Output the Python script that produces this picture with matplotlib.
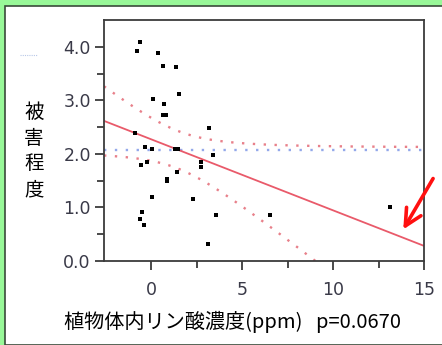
import numpy as np
import matplotlib
matplotlib.use("Agg")
import matplotlib.pyplot as plt
from matplotlib.patches import Rectangle

# data
phos = [-0.60, -0.79, 0.38, 0.64, 1.34, 1.54, 0.11, 0.71, 0.62, 0.81,
        3.19, -0.88, -0.35, 0.05, 1.30, 1.45, 3.37, -0.24, -0.59, 2.75,
        2.75, 1.43, 0.88, 0.88, 0.04, 2.31, 13.13, -0.49, 6.54, 3.55,
        -0.60, -0.42, 3.10]
damage = [4.09, 3.92, 3.89, 3.64, 3.62, 3.11, 3.02, 2.93, 2.72, 2.72,
          2.48, 2.39, 2.12, 2.09, 2.09, 2.09, 1.98, 1.84, 1.79, 1.85,
          1.76, 1.67, 1.54, 1.49, 1.19, 1.15, 1.00, 0.92, 0.86, 0.86,
          0.79, 0.68, 0.32]
xticks = [0, 5, 10, 15]
yticks = [0.0, 1.0, 2.0, 3.0, 4.0]
ylabel = "被\n害\n程\n度"
xlabel = "植物体内リン酸濃度(ppm)   p=0.0670"
t_crit = 2.04  # t(0.975, n-2)

x = np.array(phos)
y = np.array(damage)
n = len(x)
slope, icpt = np.polyfit(x, y, 1)
resid = y - (icpt + slope * x)
s = np.sqrt(np.sum(resid ** 2) / (n - 2))
sxx = np.sum((x - x.mean()) ** 2)

xs = np.linspace(-2.6, 15, 200)
fit = icpt + slope * xs
half = t_crit * s * np.sqrt(1.0 / n + (xs - x.mean()) ** 2 / sxx)

fig = plt.figure(figsize=(4.42, 3.45), dpi=100)
# green frame
fig.patches.append(Rectangle((0, 0), 1, 1, transform=fig.transFigure,
                             facecolor="#98f898", edgecolor="none", zorder=-3))
fig.patches.append(Rectangle((5 / 442, 0), 1, 1 - 6 / 345, transform=fig.transFigure,
                             facecolor="white", edgecolor="#3a4a3a", lw=1.2, zorder=-2))

ax = fig.add_axes([104 / 442, 84 / 345, 320 / 442, 241 / 345])
ax.set_xlim(-2.6, 15)
ax.set_ylim(0, 4.5)

ax.plot(xs, fit + half, color="#e8808a", lw=1.7, ls=(0, (1, 3.6)), clip_on=True)
ax.plot(xs, fit - half, color="#e8808a", lw=1.7, ls=(0, (1, 3.6)), clip_on=True)
ax.plot(xs, np.full_like(xs, y.mean()), color="#93a8ea", lw=1.7, ls=(0, (1, 3.6)))
ax.plot(xs, fit, color="#e95a6a", lw=1.3)
ax.plot(x, y, "s", color="black", ms=2.6, mew=0)

for sp in ax.spines.values():
    sp.set_color("#3c3c3c")
    sp.set_linewidth(1.3)

ax.set_xticks(xticks)
ax.set_xticks([2.5, 7.5, 12.5], minor=True)
ax.set_yticks(yticks)
ax.set_yticklabels(["%.1f" % v for v in yticks])
ax.set_yticks(np.arange(0.5, 4.5, 1.0), minor=True)
ax.tick_params(which="major", direction="out", length=6.5, width=1.3,
               color="#3c3c3c", labelsize=12.5, labelcolor="#3a3a48")
ax.tick_params(axis="x", which="major", pad=8)
ax.tick_params(axis="y", which="major", pad=3)
ax.tick_params(which="minor", direction="out", length=5, width=1.3, color="#3c3c3c")

fig.text(34 / 442, 1 - 151 / 345, ylabel, family=["Noto Sans CJK JP", "DejaVu Sans"],
         fontsize=14, ha="center", va="center", linespacing=1.3)
fig.text(232 / 442, 1 - 322 / 345, xlabel, family=["Noto Sans CJK JP", "DejaVu Sans"],
         fontsize=14.5, ha="center", va="center")

# faint marker near top left
fig.add_artist(plt.Line2D([20 / 442, 37 / 442], [1 - 55 / 345] * 2, color="#b8c8e8",
                          lw=0.8, ls=(0, (1, 1))))

ax.annotate("", xy=(13.86, 0.59), xytext=(15.5, 1.54), annotation_clip=False,
            arrowprops=dict(arrowstyle="->,head_length=1.2,head_width=0.6",
                            color="#ff1010", lw=2.6, shrinkA=0, shrinkB=0))

fig.savefig("out.png", dpi=100)
